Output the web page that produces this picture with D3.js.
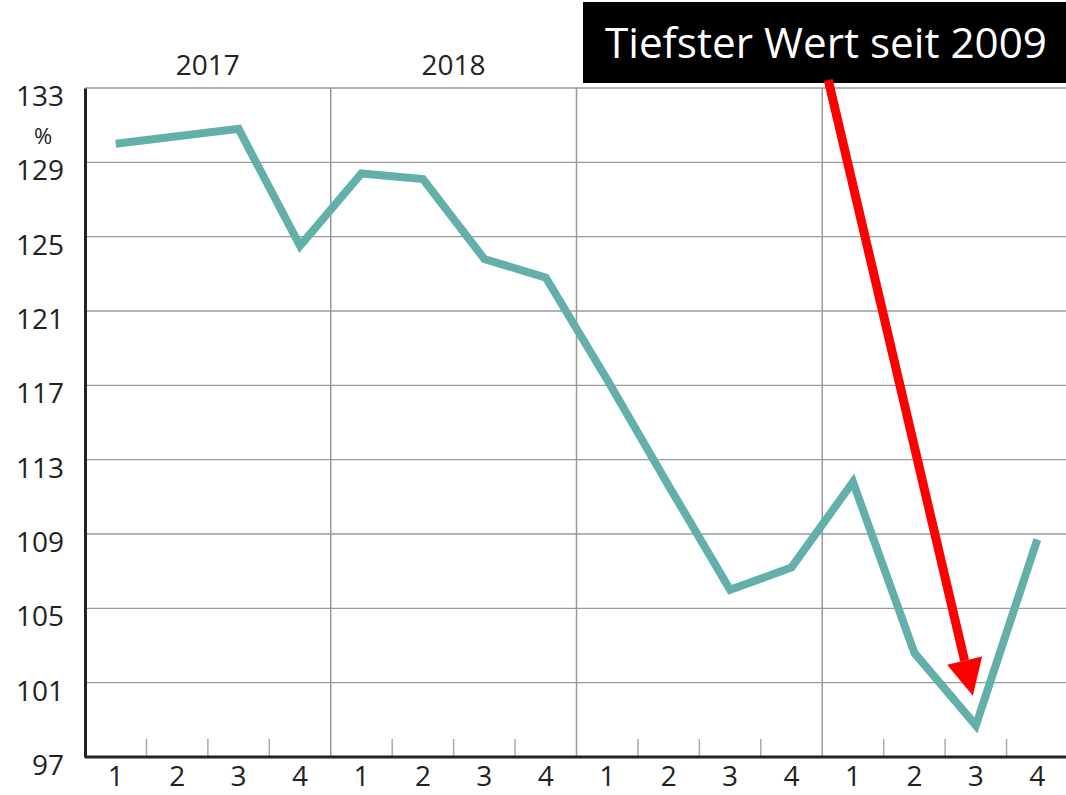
<!DOCTYPE html>
<html>
<head>
<meta charset="utf-8">
<script src="https://cdn.jsdelivr.net/npm/d3@7"></script>
<style>
  html, body { margin: 0; padding: 0; background: #fff; }
  svg { display: block; }
  text { font-family: "Open Sans", "Noto Sans", sans-serif; fill: #222; }
</style>
</head>
<body>
<div id="chart"></div>
<script>
// Quartale 2017 - 2020, Werte in %
const years = ['2017', '2018', '2019', '2020']
const quarters = ['1', '2', '3', '4']
const values = [
  130.0, 130.4, 130.8, 124.5,
  128.4, 128.1, 123.8, 122.8,
  117.3, 111.6, 106.0, 107.2,
  111.8, 102.6, 98.7, 108.7
]
const yTicks = [97, 101, 105, 109, 113, 117, 121, 125, 129, 133]
const yLabelYears = ['2017', '2018']
const note = 'Tiefster Wert seit 2009'
const noteIndex = 14 // Q3 2020

const width = 1066
const height = 795
const margin = {left: 85, right: -2, top: 88, bottom: 38}
const g_width = width - margin.left - margin.right
const g_height = height - margin.top - margin.bottom

const svg = d3.select('#chart')
  .append('svg')
  .attr('width', width)
  .attr('height', height)

const idx = d3.range(values.length)
const x = d3.scaleBand().domain(idx).range([margin.left, margin.left + g_width])
const xc = i => x(i) + x.bandwidth() / 2
const y = d3.scaleLinear().domain([97, 133]).range([margin.top + g_height, margin.top])

// horizontal gridlines
svg.append('g')
  .selectAll('line')
  .data(yTicks.slice(1))
  .join('line')
  .attr('x1', margin.left)
  .attr('x2', width)
  .attr('y1', d => y(d))
  .attr('y2', d => y(d))
  .style('stroke', '#9a9a9a')
  .style('stroke-width', 1.3)

// year separators + quarter ticks
svg.append('g')
  .selectAll('line')
  .data(idx.filter(i => i > 0))
  .join('line')
  .attr('x1', i => x(i))
  .attr('x2', i => x(i))
  .attr('y1', i => i % 4 === 0 ? margin.top : y(97) - 18)
  .attr('y2', y(97))
  .style('stroke', i => i % 4 === 0 ? '#999' : '#aaa')
  .style('stroke-width', 1.5)

// axes
const yAxis = d3.axisLeft(y).tickValues(yTicks).tickSize(0).tickPadding(21)
const gy = svg.append('g')
  .attr('transform', `translate(${margin.left}, 0)`)
  .call(yAxis)
gy.select('.domain').style('stroke', '#222').style('stroke-width', 3)
gy.selectAll('text')
  .attr('dy', '0.62em')
  .style('font-size', '28px')
  .style('fill', '#222')

// einheit
svg.append('text')
  .attr('x', 43)
  .attr('y', y(129) - 18)
  .attr('text-anchor', 'middle')
  .style('font-size', '22px')
  .text('%')

const xAxis = d3.axisBottom(x).tickSize(0).tickPadding(9)
  .tickFormat(i => quarters[i % 4])
const gx = svg.append('g')
  .attr('transform', `translate(0, ${y(97)})`)
  .call(xAxis)
gx.select('.domain').attr('d', `M${margin.left},0H${width}`)
  .style('stroke', '#222').style('stroke-width', 3)
gx.selectAll('text')
  .attr('dy', '0.71em')
  .style('font-size', '28px')
  .style('fill', '#222')

// year labels above the plot
svg.append('g')
  .selectAll('text')
  .data(yLabelYears)
  .join('text')
  .attr('x', (d, k) => x(k * 4) + x.bandwidth() * 2)
  .attr('y', margin.top - 13)
  .attr('text-anchor', 'middle')
  .style('font-size', '28px')
  .text(d => d)

// main line
const line = d3.line()
  .x((d, i) => xc(i))
  .y(d => y(d))
svg.append('path')
  .attr('d', line(values))
  .style('fill', 'none')
  .style('stroke', '#63b0aa')
  .style('stroke-width', 8)
  .style('stroke-linejoin', 'miter')

// annotation box
const box = svg.append('g')
box.append('rect')
  .attr('x', 583)
  .attr('y', 2)
  .attr('width', width - 583)
  .attr('height', 81)
  .style('fill', '#000')
box.append('text')
  .attr('x', 826)
  .attr('y', 58)
  .attr('text-anchor', 'middle')
  .attr('textLength', 442)
  .attr('lengthAdjust', 'spacingAndGlyphs')
  .style('font-size', '42px')
  .style('fill', '#fff')
  .text(note)

// red arrow toward the low point
const x0 = x(12) + 6, y0 = 80
const x1 = xc(noteIndex) - 3, y1 = y(100.3)
const ang = Math.atan2(y1 - y0, x1 - x0)
const headLen = 36, headW = 18
const bx = x1 - headLen * Math.cos(ang), by = y1 - headLen * Math.sin(ang)
svg.append('line')
  .attr('x1', x0).attr('y1', y0)
  .attr('x2', bx).attr('y2', by)
  .style('stroke', '#ff0000')
  .style('stroke-width', 9)
svg.append('path')
  .attr('d', d3.line()([
    [x1, y1],
    [bx + headW * Math.sin(ang), by - headW * Math.cos(ang)],
    [bx - headW * Math.sin(ang), by + headW * Math.cos(ang)]
  ]) + 'Z')
  .style('fill', '#ff0000')
</script>
</body>
</html>
